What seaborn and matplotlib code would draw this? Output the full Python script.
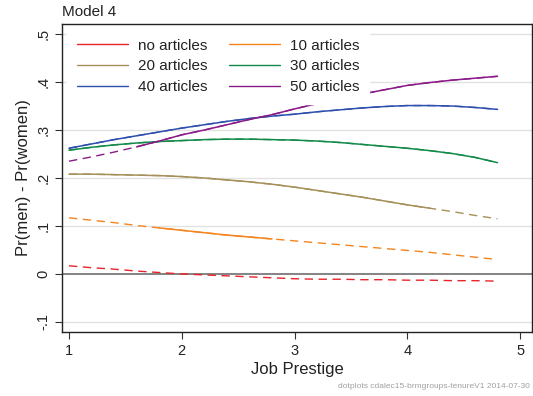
import matplotlib
matplotlib.use("Agg")
import matplotlib.pyplot as plt
import seaborn as sns
import pandas as pd
import numpy as np

sns.set_theme(style="white")
plt.rcParams['font.family'] = ['Liberation Sans', 'DejaVu Sans']

prestige = [1.0, 1.2, 1.4, 1.6, 1.8, 2.0, 2.2, 2.4, 2.6, 2.8,
            3.0, 3.2, 3.4, 3.6, 3.8, 4.0, 4.2, 4.4, 4.6, 4.8]

series_names = ["no articles", "10 articles", "20 articles",
                "30 articles", "40 articles", "50 articles"]

no_articles = [.017, .013, .010, .006, .003, .000, -.002, -.004, -.006, -.008,
               -.010, -.011, -.011, -.012, -.012, -.013, -.013, -.014, -.014, -.015]
art10 = [.117, .112, .107, .101, .096, .091, .086, .081, .077, .073,
         .069, .065, .061, .057, .053, .049, .045, .040, .035, .030]
art20 = [.208, .208, .207, .206, .205, .203, .200, .196, .192, .187,
         .181, .174, .167, .160, .152, .144, .137, .130, .122, .115]
art30 = [.258, .264, .269, .273, .276, .278, .280, .281, .281, .280,
         .279, .277, .274, .270, .266, .262, .257, .251, .243, .232]
art40 = [.262, .271, .280, .288, .296, .304, .311, .318, .324, .329,
         .333, .338, .342, .346, .349, .351, .351, .350, .347, .343]
art50 = [.235, .244, .254, .265, .277, .290, .300, .311, .322, .332,
         .344, .355, .365, .375, .384, .393, .399, .404, .408, .412]

# range of prestige where the difference is drawn solid (significant)
sig_lo = [None, 1.8, 1.0, 1.0, 1.0, 1.6]
sig_hi = [None, 2.8, 4.2, 4.8, 4.8, 4.8]

colors = ["#e8232a", "#f5841f", "#a6905a", "#138a4a", "#2f4fae", "#8a1a87"]

y_ticks = [-0.1, 0, 0.1, 0.2, 0.3, 0.4, 0.5]
y_tick_labels = ["-.1", "0", ".1", ".2", ".3", ".4", ".5"]
x_ticks = [1, 2, 3, 4, 5]

values = [no_articles, art10, art20, art30, art40, art50]

fig = plt.figure(figsize=(5.33, 3.96), dpi=100)
ax = fig.add_axes([62/533, 1 - 332/396, 470/533, 308/396])

for yt in y_ticks:
    if yt == 0:
        ax.axhline(0, color="#7a7a7a", lw=1.3, zorder=1)
    else:
        ax.axhline(yt, color="#e2e2e2", lw=1.0, zorder=0)

handles = []
for name, vals, c, lo, hi in zip(series_names, values, colors, sig_lo, sig_hi):
    df = pd.DataFrame({"x": prestige, "y": vals})
    sns.lineplot(data=df, x="x", y="y", ax=ax, color=c, lw=1.0,
                 linestyle=(0, (6, 4)), estimator=None, sort=False, zorder=2)
    if lo is not None:
        sub = df[(df.x >= lo - 1e-9) & (df.x <= hi + 1e-9)]
        sns.lineplot(data=sub, x="x", y="y", ax=ax, color=c, lw=1.1,
                     estimator=None, sort=False, zorder=3)
    handles.append(plt.Line2D([], [], color=c, lw=1.0, label=name))

ax.set_xlim(0.938, 5.106)
ax.set_ylim(-0.121, 0.521)
ax.set_xticks(x_ticks)
ax.set_xticklabels([str(t) for t in x_ticks], fontsize=10.5)
ax.set_yticks(y_ticks)
ax.set_yticklabels(y_tick_labels, fontsize=10.5, rotation=90, va="center")
ax.tick_params(axis="both", direction="out", length=5, width=0.8, color="#333333",
               left=True, bottom=True, colors="#222222")
for s in ax.spines.values():
    s.set_color("#222222")
    s.set_linewidth(1.0)

ax.set_xlabel("Job Prestige", fontsize=12, color="#222222", labelpad=3)
ax.set_ylabel("Pr(men) - Pr(women)", fontsize=12, color="#222222", labelpad=4)

# row-major legend order (2 columns)
order = [0, 2, 4, 1, 3, 5]
leg = ax.legend(handles=[handles[i] for i in order], ncol=2, loc="upper left",
                fontsize=11, frameon=True, fancybox=False, edgecolor="white",
                framealpha=1, handlelength=3.4, handletextpad=0.6,
                columnspacing=1.4, labelspacing=0.45, borderaxespad=0.3,
                borderpad=0.65)
leg.set_zorder(5)
for t in leg.get_texts():
    t.set_color("#222222")

fig.text(62/533, 1 - 12/396, "Model 4", fontsize=11, color="#222222",
         ha="left", va="center")
fig.text(530/533, 1 - 386/396, "dotplots cdalec15-brmgroups-tenureV1 2014-07-30",
         fontsize=6, color="#a0a0a0", ha="right", va="center")

fig.savefig("out.png", dpi=100, facecolor="white")
